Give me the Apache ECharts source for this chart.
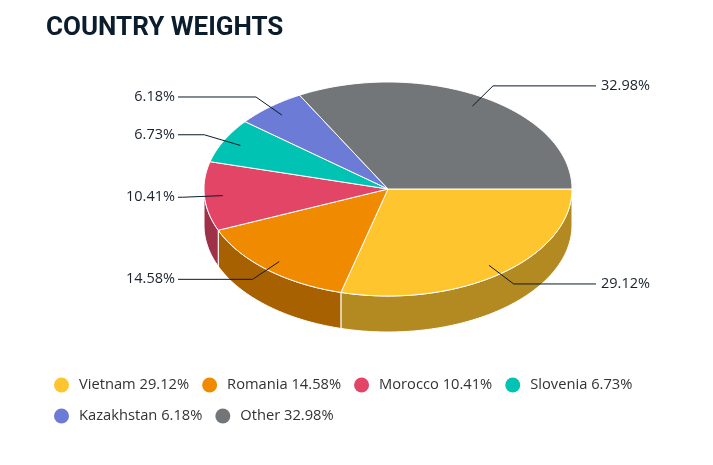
<!DOCTYPE html>
<html>
<head>
<meta charset="utf-8">
<script src="https://cdn.jsdelivr.net/npm/echarts@6/dist/echarts.min.js"></script>
<style>
html,body{margin:0;padding:0;background:#fff}
#chart{width:713px;height:465px}
</style>
</head>
<body>
<div id="chart"></div>
<script>
var countries = ['Vietnam', 'Romania', 'Morocco', 'Slovenia', 'Kazakhstan', 'Other'];
var weights = [29.12, 14.58, 10.41, 6.73, 6.18, 32.98];
var topColors = ['#ffc52f', '#f08a00', '#e34566', '#00c3b3', '#6c7bd5', '#737679'];
var sideColors = ['#b38a22', '#a86100', '#9e3048', '#008a7e', '#4c5695', '#515355'];

// geometry of the tilted pie
var cx = 388, cy = 189, rx = 184, ry = 107, depth = 36;

var total = 0;
var starts = [];
for (var k = 0; k < weights.length; k++) {
    starts.push(total);
    total += weights[k];
}

function pt(a, r, dy) {
    return [cx + rx * r * Math.cos(a), cy + ry * r * Math.sin(a) + (dy || 0)];
}
function arc(a1, a2, r, dy) {
    var pts = [];
    var n = Math.max(2, Math.ceil((a2 - a1) / 0.02));
    for (var j = 0; j <= n; j++) {
        pts.push(pt(a1 + (a2 - a1) * j / n, r, dy));
    }
    return pts;
}

function renderSlice(i) {
    return function (params, api) {
        var a1 = starts[i] / total * Math.PI * 2;
        var a2 = (starts[i] + weights[i]) / total * Math.PI * 2;
        var children = [];
        // side wall (front half only)
        var s = Math.max(a1, 0), e = Math.min(a2, Math.PI);
        if (e > s) {
            var side = arc(s, e, 1, 0).concat(arc(s, e, 1, depth).reverse());
            children.push({
                type: 'polygon', z2: 1,
                shape: {points: side},
                style: {fill: sideColors[i], stroke: '#fff', lineWidth: 1}
            });
        }
        // top face
        children.push({
            type: 'polygon', z2: 10,
            shape: {points: [[cx, cy]].concat(arc(a1, a2, 1, 0))},
            style: {fill: topColors[i], stroke: '#fff', lineWidth: 1}
        });
        // label + connector
        var m = (a1 + a2) / 2;
        var p0 = pt(m, 0.9), p1 = pt(m, 1.12);
        var right = Math.cos(m) > 0;
        var x2 = right ? 596 : 178;
        children.push({
            type: 'polyline', z2: 20,
            shape: {points: [p0, p1, [x2, p1[1]]]},
            style: {stroke: '#0b1a28', lineWidth: 1, fill: null}
        });
        children.push({
            type: 'text', z2: 20,
            style: {
                text: weights[i].toFixed(2) + '%',
                x: right ? x2 + 5 : x2 - 3,
                y: p1[1],
                align: right ? 'left' : 'right',
                verticalAlign: 'middle',
                fontSize: 14.5,
                fontFamily: 'Open Sans',
                fill: '#1a222e'
            }
        });
        return {type: 'group', children: children};
    };
}

var series = [];
for (var i = 0; i < countries.length; i++) {
    series.push({
        name: countries[i],
        type: 'custom',
        coordinateSystem: 'none',
        itemStyle: {color: topColors[i]},
        data: [weights[i]],
        renderItem: renderSlice(i)
    });
}

var option = {
    animation: false,
    title: {
        text: 'COUNTRY WEIGHTS',
        left: 41,
        top: 10,
        textStyle: {
            fontFamily: 'Roboto',
            fontWeight: 'bold',
            fontSize: 26,
            color: '#0b1d2c'
        }
    },
    legend: {
        left: 49,
        top: 371,
        width: 620,
        icon: 'circle',
        itemWidth: 15,
        itemHeight: 15,
        itemGap: 13,
        formatter: function (name) {
            return name + ' ' + weights[countries.indexOf(name)].toFixed(2) + '%';
        },
        textStyle: {
            fontFamily: 'Open Sans', fontSize: 14.7, color: '#333',
            lineHeight: 18, padding: [0, 0, 0, 5]
        }
    },
    series: series
};

var myChart = echarts.init(document.getElementById('chart'));
myChart.setOption(option);
</script>
</body>
</html>
